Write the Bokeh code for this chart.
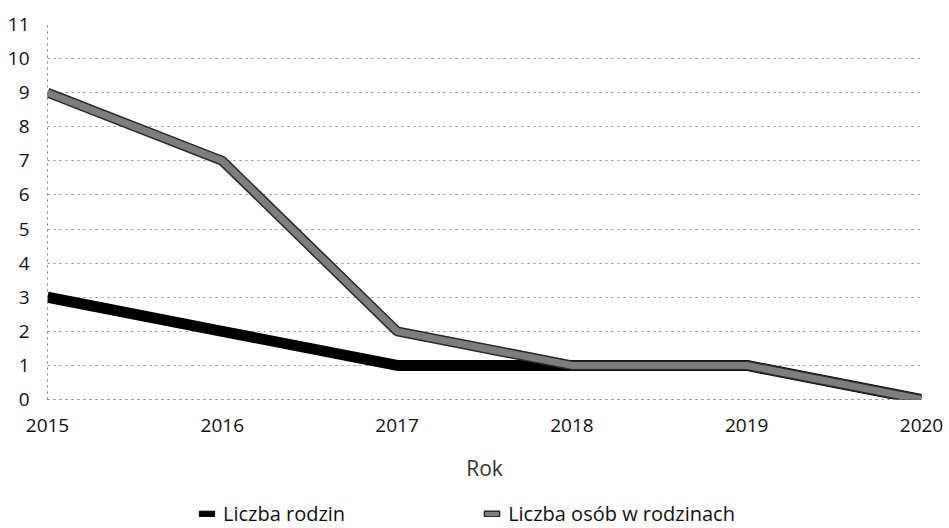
from bokeh.plotting import figure
from bokeh.layouts import column
from bokeh.models import ColumnDataSource, Legend, LegendItem, FixedTicker, Range1d
from bokeh.embed import file_html
from bokeh.resources import INLINE

years = [2015, 2016, 2017, 2018, 2019, 2020]
rodziny = [3, 2, 1, 1, 1, 0]
osoby = [9, 7, 2, 1, 1, 0]
y_ticks = list(range(0, 12))
series_names = ["Liczba rodzin", "Liczba osób w rodzinach"]

FONT = "Open Sans"
nan = float("nan")

p = figure(width=949, height=490, output_backend="svg", toolbar_location=None,
           x_range=Range1d(2015, 2020), y_range=Range1d(0, 11),
           min_border_left=47, min_border_right=28, min_border_top=24, min_border_bottom=91)
p.outline_line_color = None
p.background_fill_color = "white"
p.border_fill_color = "white"

src1 = ColumnDataSource(dict(x=years, y=rodziny))
src2 = ColumnDataSource(dict(x=years, y=osoby))

p.line("x", "y", source=src1, line_color="black", line_width=11)
p.line("x", "y", source=src2, line_color="#2a2a2a", line_width=10)
p.line("x", "y", source=src2, line_color="#7d7d7d", line_width=7)

p.xaxis.ticker = FixedTicker(ticks=years)
p.yaxis.ticker = FixedTicker(ticks=y_ticks)
for ax in (p.xaxis, p.yaxis):
    ax.major_tick_line_color = None
    ax.minor_tick_line_color = None
    ax.axis_line_color = "#777777"
    ax.axis_line_dash = "dotted"
    ax.major_label_text_font = FONT
    ax.major_label_text_font_size = "19px"
    ax.major_label_text_color = "#111111"
p.yaxis.major_label_standoff = 12
p.xaxis.major_label_standoff = 13
p.xaxis.axis_label = "Rok"
p.xaxis.axis_label_text_font = FONT
p.xaxis.axis_label_text_font_size = "21px"
p.xaxis.axis_label_text_font_style = "normal"
p.xaxis.axis_label_text_color = "#333333"
p.xaxis.axis_label_standoff = 19

p.xgrid.grid_line_color = None
p.ygrid.ticker = FixedTicker(ticks=y_ticks)
p.ygrid.grid_line_color = "#8a8a8a"
p.ygrid.grid_line_dash = "dotted"
p.ygrid.grid_line_width = 1

# legend strip below the chart (its frame is aligned with the chart's frame)
p2 = figure(width=949, height=38, output_backend="svg", toolbar_location=None,
            x_range=Range1d(0, 1), y_range=Range1d(0, 1), min_border=0)
p2.axis.visible = False
p2.grid.visible = False
p2.outline_line_color = None
proxy = ColumnDataSource(dict(l=[nan], r=[nan], b=[nan], t=[nan]))
q1 = p2.quad(left="l", right="r", bottom="b", top="t", source=proxy,
             fill_color="black", line_color="black")
q2 = p2.quad(left="l", right="r", bottom="b", top="t", source=proxy,
             fill_color="#7d7d7d", line_color="#2a2a2a", line_width=1.5)

legend = Legend(items=[LegendItem(label=series_names[0], renderers=[q1]),
                       LegendItem(label=series_names[1], renderers=[q2])],
                orientation="horizontal", location=(150, 1))
legend.label_text_font = FONT
legend.label_text_font_size = "20px"
legend.label_text_color = "#111111"
legend.glyph_width = 19
legend.glyph_height = 7
legend.spacing = 137
legend.label_standoff = 7
legend.border_line_color = None
legend.background_fill_alpha = 0
legend.padding = 0
legend.margin = 0
p2.add_layout(legend)

layout = column(p, p2, spacing=0)
open("out.html", "w").write(file_html(layout, INLINE))
